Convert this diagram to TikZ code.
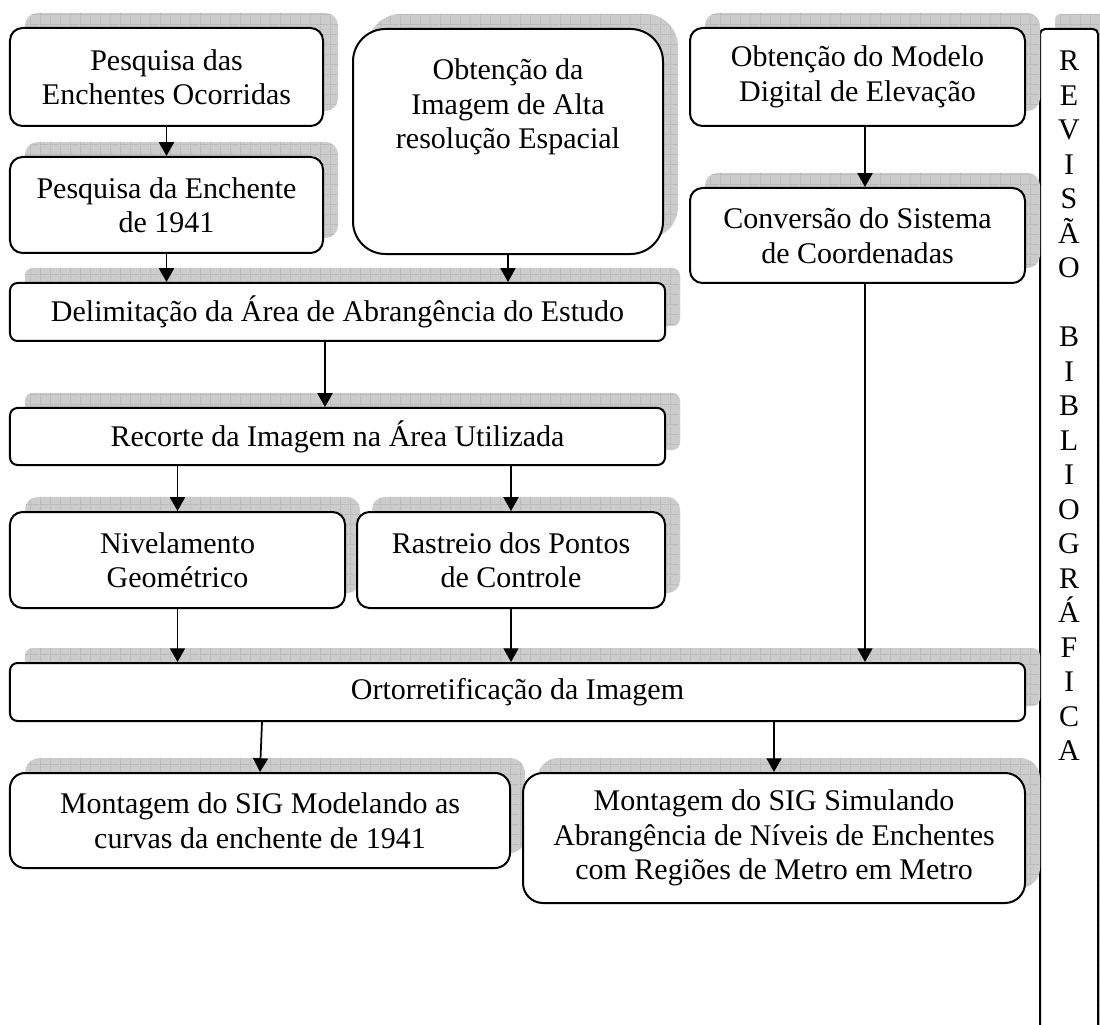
\documentclass[tikz,border=0pt]{standalone}
\usepackage{fontspec}
\setmainfont{Liberation Serif}
\usetikzlibrary{arrows.meta,shadows,patterns.meta}

\tikzdeclarepattern{
  name=shadegrid,
  type=uncolored,
  bottom left={(0pt,0pt)},
  top right={(4pt,4pt)},
  tile size={(4pt,4pt)},
  code={\draw[line width=0.35pt] (0pt,0pt) -- (4pt,0pt) (0pt,0pt) -- (0pt,4pt);}
}

\tikzset{
  gridshadow/.style={general shadow={shadow xshift=6pt, shadow yshift=6pt, fill=gray!40,
      postaction={pattern=shadegrid, pattern color=gray!75}}},
  stepbox/.style={draw, line width=0.8pt, fill=white, rounded corners=5pt, align=center,
      inner sep=2pt, font=\fontsize{12}{13.8}\selectfont, gridshadow},
  flow/.style={line width=0.7pt, -{Triangle[length=5.5pt,width=6pt]}},
}

\begin{document}
\begin{tikzpicture}[x=0.4pt,y=-0.4pt]
        \useasboundingbox (0,0) rectangle (1100,1025);

        % Column on the right
        \node[stepbox, rounded corners=2pt, anchor=north, inner ysep=8.8pt, inner xsep=1.6pt] (revisao) at (1069,28)
              {\parbox[t][460pt][t]{20pt}{\centering
               R\\E\\V\\I\\S\\Ã\\O\\[13.8pt]B\\I\\B\\L\\I\\O\\G\\R\\Á\\F\\I\\C\\A}};

        % First steps
        \node[stepbox, minimum width=125.2pt, minimum height=39.2pt] (enchentes) at (166.5,77)
              {Pesquisa das\\Enchentes Ocorridas};
        \node[stepbox, minimum width=125.2pt, minimum height=38.4pt] (enchente41) at (166.5,205)
              {Pesquisa da Enchente\\de 1941};
        \node[stepbox, rounded corners=13pt, anchor=north, inner ysep=12pt] (imagem) at (508,28)
              {\parbox[t][66pt][t]{120pt}{\centering Obtenção da\\Imagem de Alta\\resolução Espacial}};
        \node[stepbox, minimum width=134pt, minimum height=39.2pt] (modelo) at (857.5,77)
              {Obtenção do Modelo\\Digital de Elevação};
        \node[stepbox, minimum width=134pt, minimum height=38pt] (conversao) at (857.5,235.5)
              {Conversão do Sistema\\de Coordenadas};

        % Area and cut
        \node[stepbox, rounded corners=3pt, minimum width=262pt, minimum height=23.2pt] (delimitacao) at (337.5,312)
              {Delimitação da Área de Abrangência do Estudo};
        \node[stepbox, rounded corners=3pt, minimum width=262pt, minimum height=22.8pt] (recorte) at (337.5,436.5)
              {Recorte da Imagem na Área Utilizada};

        % Field work
        \node[stepbox, minimum width=134pt, minimum height=38.4pt] (nivelamento) at (177.5,560)
              {Nivelamento\\Geométrico};
        \node[stepbox, minimum width=123.2pt, minimum height=38.4pt] (rastreio) at (511,560)
              {Rastreio dos Pontos\\de Controle};

        % Orthorectification and GIS
        \node[stepbox, rounded corners=3pt, minimum width=406pt, minimum height=23.2pt] (orto) at (517.5,692)
              {Ortorretificação da Imagem};
        \node[stepbox, rounded corners=6pt, minimum width=200pt, minimum height=38pt] (sigcurvas) at (260,820.5)
              {Montagem do SIG Modelando as\\curvas da enchente de 1941};
        \node[stepbox, rounded corners=8pt, minimum width=200.8pt, minimum height=52pt] (signiveis) at (774,838)
              {Montagem do SIG Simulando\\Abrangência de Níveis de Enchentes\\com Regiões de Metro em Metro};

        % Arrows
        \draw[flow] (enchentes) -- (enchente41);
        \draw[flow] (enchente41.south) -- (enchente41.south |- delimitacao.north);
        \draw[flow] (imagem.south) -- (imagem.south |- delimitacao.north);
        \draw[flow] ([xshift=-5pt]delimitacao.south) -- ([xshift=-5pt]recorte.north);
        \draw[flow] ([xshift=3pt]modelo.south) -- ([xshift=3pt]conversao.north);
        \draw[flow] ([xshift=3pt]conversao.south) -- ([xshift=3pt]conversao.south |- orto.north);
        \draw[flow] (nivelamento.north |- recorte.south) -- (nivelamento.north);
        \draw[flow] (rastreio.north |- recorte.south) -- (rastreio.north);
        \draw[flow] (nivelamento.south) -- (nivelamento.south |- orto.north);
        \draw[flow] (rastreio.south) -- (rastreio.south |- orto.north);
        \draw[flow] ([xshift=0.8pt]sigcurvas.north |- orto.south) -- (sigcurvas.north);
        \draw[flow] (signiveis.north |- orto.south) -- (signiveis.north);
\end{tikzpicture}
\end{document}
